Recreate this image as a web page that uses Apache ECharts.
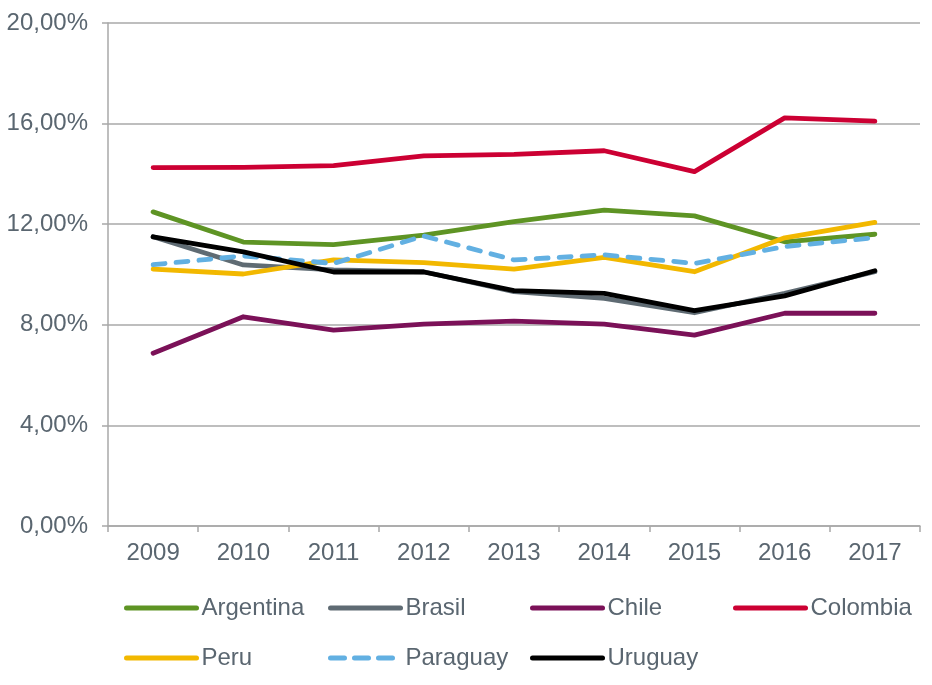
<!DOCTYPE html>
<html>
<head>
<meta charset="utf-8" />
<title>Line chart</title>
<script src="https://cdn.jsdelivr.net/npm/echarts@6/dist/echarts.min.js"></script>
<style>
  html, body { margin: 0; padding: 0; background: #fff; }
  #main { width: 932px; height: 685px; }
</style>
</head>
<body>
<div id="main"></div>
<script>
var years = ['2009', '2010', '2011', '2012', '2013', '2014', '2015', '2016', '2017'];

var argentina = [12.49, 11.29, 11.19, 11.57, 12.10, 12.56, 12.33, 11.30, 11.60];
var brasil    = [11.50, 10.38, 10.18, 10.11, 9.32, 9.05, 8.48, 9.25, 10.11];
var chile     = [6.87, 8.32, 7.79, 8.03, 8.15, 8.03, 7.59, 8.46, 8.46];
var colombia  = [14.25, 14.26, 14.33, 14.72, 14.78, 14.92, 14.09, 16.23, 16.10];
var peru      = [10.21, 10.02, 10.58, 10.47, 10.21, 10.68, 10.11, 11.46, 12.07];
var paraguay  = [10.39, 10.74, 10.44, 11.53, 10.58, 10.78, 10.44, 11.11, 11.46];
var uruguay   = [11.50, 10.90, 10.10, 10.10, 9.36, 9.25, 8.56, 9.15, 10.15];

var names  = ['Argentina', 'Brasil', 'Chile', 'Colombia', 'Peru', 'Paraguay', 'Uruguay'];
var values = [argentina, brasil, chile, colombia, peru, paraguay, uruguay];
var colors = ['#5e9424', '#5f6b73', '#7b1158', '#cc0033', '#f2b800', '#62b0e2', '#000000'];

var textColor = '#5a6670';
var gridColor = '#a8a8a8';

// legend slots: 4 columns, 2 rows
var legendLeft = [124, 328, 530, 733, 124, 328, 530];
var legendTop  = [596, 596, 596, 596, 646, 646, 646];

var series = [];
var legends = [];
for (var i = 0; i < names.length; i++) {
  var dash = names[i] == 'Paraguay' ? [12, 11] : 'solid';
  series.push({
    name: names[i],
    type: 'line',
    data: values[i],
    symbol: 'none',
    color: colors[i],
    lineStyle: { width: 4.8, color: colors[i], cap: 'round', join: 'round', type: dash }
  });
  legends.push({
    data: [names[i]],
    left: legendLeft[i],
    top: legendTop[i],
    padding: 0,
    itemWidth: 70,
    itemHeight: 24,
    itemGap: 4,
    itemStyle: { opacity: 0 },
    lineStyle: { width: 5, cap: 'round', type: names[i] == 'Paraguay' ? [14, 10] : 'solid' },
    textStyle: { color: textColor, fontSize: 24, fontFamily: 'Liberation Sans' },
    selectedMode: false
  });
}

var myChart = echarts.init(document.getElementById('main'));
myChart.setOption({
  animation: false,
  grid: { left: 108, right: 12, top: 23, bottom: 159 },
  legend: legends,
  xAxis: {
    type: 'category',
    data: years,
    boundaryGap: true,
    axisLine: { lineStyle: { color: gridColor, width: 1.5 } },
    axisTick: { show: true, length: 6, lineStyle: { color: gridColor, width: 1.5 } },
    axisLabel: { color: textColor, fontSize: 24, fontFamily: 'Liberation Sans', margin: 15 }
  },
  yAxis: {
    type: 'value',
    min: 0,
    max: 20,
    interval: 4,
    axisLine: { show: true, lineStyle: { color: gridColor, width: 1.5 } },
    axisTick: { show: true, length: 6, lineStyle: { color: gridColor, width: 1.5 } },
    splitLine: { lineStyle: { color: gridColor, width: 1.5 } },
    axisLabel: {
      color: textColor, fontSize: 24, fontFamily: 'Liberation Sans', margin: 20,
      formatter: function (v) { return v.toFixed(2).replace('.', ',') + '%'; }
    }
  },
  series: series
});
</script>
</body>
</html>
